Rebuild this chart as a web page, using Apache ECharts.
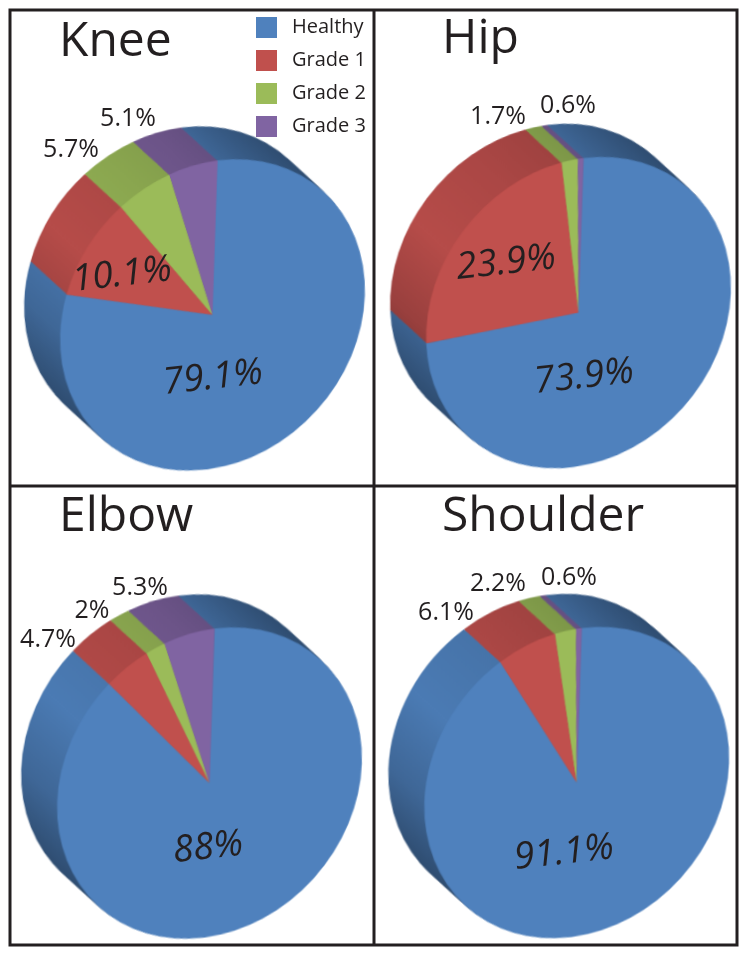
<!DOCTYPE html>
<html>
<head>
<meta charset="utf-8">
<script src="https://cdn.jsdelivr.net/npm/echarts@6/dist/echarts.min.js"></script>
<style>
html,body{margin:0;padding:0;background:#fff;overflow:hidden}
#stage{position:relative;width:749px;height:956px;overflow:hidden;background:#fff}
#pies{position:absolute;left:0;top:0;width:800px;height:1060px;transform-origin:0 0;transform:matrix(0.986,-0.127,-0.033,1,0,0)}
#overlay{position:absolute;left:0;top:0;width:749px;height:956px}
</style>
</head>
<body>
<div id="stage"><div id="pies"></div><div id="overlay"></div></div>
<script>
// ---- data ----
const grades = ['Healthy', 'Grade 1', 'Grade 2', 'Grade 3'];
const joints = ['Knee', 'Hip', 'Elbow', 'Shoulder'];
const knee = [79.1, 10.1, 5.7, 5.1];
const hip = [73.9, 23.9, 1.7, 0.6];
const elbow = [88, 4.7, 2, 5.3];
const shoulder = [91.1, 6.1, 2.2, 0.6];
const jointValues = [knee, hip, elbow, shoulder];
const colors = ['#4f81bd', '#c0504d', '#9bbb59', '#8064a2'];

// ---- layout ----
const apex = [[212.5, 315], [578.5, 312.5], [209.5, 783], [576.7, 782.5]];
const titlePos = [[59, 42], [442, 39], [59, 517], [442, 517]];
// text centre of each value label, same order as the grades; third item: 1 = on the pie face
const labelPos = [
  [[213, 378, 1], [122, 275, 1], [71, 150, 0], [128, 119, 0]],
  [[584, 377, 1], [506, 263, 1], [498, 117, 0], [568, 106, 0]],
  [[208, 848, 1], [48, 640, 0], [92, 611, 0], [140, 588, 0]],
  [[564, 853, 1], [446, 613, 0], [498, 584, 0], [569, 578, 0]]
];
const R = 154.5, DEPTH = [-36, -33], LAYERS = 36;
const M = [0.986, -0.127, -0.033, 1];
const det = M[0] * M[3] - M[1] * M[2];
const inv = (x, y) => [(M[3] * x - M[2] * y) / det, (-M[1] * x + M[0] * y) / det];

// side-wall brightness along the lower-left to upper-right axis
const shadeStops = [[0, .6], [.15, .8], [.37, .95], [.63, .89], [.78, .84], [.85, .8], [1, .6]];
function shade(hex, f) {
  const n = parseInt(hex.slice(1), 16);
  return 'rgb(' + [(n >> 16) & 255, (n >> 8) & 255, n & 255].map(v => Math.round(v * f)).join(',') + ')';
}
function sideColor(hex, c) {
  const d = R * 0.707;
  return {
    type: 'linear', global: true,
    x: c[0] - d, y: c[1] + d, x2: c[0] + d, y2: c[1] - d,
    colorStops: shadeStops.map(s => ({ offset: s[0], color: shade(hex, s[1]) }))
  };
}
function pieLayer(values, center, colorFn, z) {
  return {
    type: 'pie', radius: [0, R], center: center, startAngle: 90, clockwise: true,
    z: z, silent: true, animation: false, avoidLabelOverlap: false,
    label: { show: false }, labelLine: { show: false }, emphasis: { disabled: true },
    data: values.map((v, i) => ({ name: grades[i], value: v, itemStyle: { color: colorFn(colors[i]) } }))
  };
}

const pieSeries = [];
jointValues.forEach((values, j) => {
  const top = inv(apex[j][0], apex[j][1]);
  const off = inv(DEPTH[0], DEPTH[1]);
  for (let k = LAYERS; k >= 1; k--) {
    const c = [top[0] + off[0] * k / LAYERS, top[1] + off[1] * k / LAYERS];
    pieSeries.push(pieLayer(values, c, h => sideColor(h, c), 2));
  }
  pieSeries.push(pieLayer(values, top, h => h, 3));
});
const pies = echarts.init(document.getElementById('pies'), null, { renderer: 'canvas' });
pies.setOption({ animation: false, series: pieSeries });

// ---- frame, titles, legend, labels ----
const FONT = '"Open Sans", "Noto Sans", sans-serif';
const INK = '#231f20';
const frame = [
  { type: 'rect', shape: { x: 10, y: 10, width: 727, height: 935 }, style: { fill: 'none', stroke: INK, lineWidth: 3 } },
  { type: 'line', shape: { x1: 374, y1: 10, x2: 374, y2: 945 }, style: { stroke: INK, lineWidth: 3 } },
  { type: 'line', shape: { x1: 10, y1: 486, x2: 737, y2: 486 }, style: { stroke: INK, lineWidth: 3 } }
];
const titles = joints.map((t, j) => ({
  type: 'text', x: titlePos[j][0], y: titlePos[j][1],
  style: { text: t, font: '48px ' + FONT, fill: INK, align: 'left', verticalAlign: 'middle' }
}));
const labels = [];
jointValues.forEach((values, j) => values.forEach((v, i) => {
  const p = labelPos[j][i];
  labels.push({
    type: 'text', x: p[0], y: p[1], rotation: p[2] ? 0.11 : 0,
    style: {
      text: v + '%', fill: INK, align: 'center', verticalAlign: 'middle',
      font: p[2] ? 'italic 37px ' + FONT : '25px ' + FONT
    }
  });
}));
const overlay = echarts.init(document.getElementById('overlay'), null, { renderer: 'canvas' });
overlay.setOption({
  animation: false,
  legend: {
    orient: 'vertical', left: 256, top: 17, itemWidth: 21, itemHeight: 21, itemGap: 12,
    icon: 'rect', selectedMode: false, padding: 0, data: grades,
    textStyle: { fontFamily: FONT, fontSize: 20, color: INK, padding: [0, 0, 0, 10] }
  },
  series: [{
    type: 'pie', radius: [0, 0], center: [-50, -50], silent: true, label: { show: false }, labelLine: { show: false },
    data: grades.map((g, i) => ({ name: g, value: knee[i], itemStyle: { color: colors[i] } }))
  }],
  graphic: { elements: frame.concat(titles, labels) }
});
</script>
</body>
</html>
